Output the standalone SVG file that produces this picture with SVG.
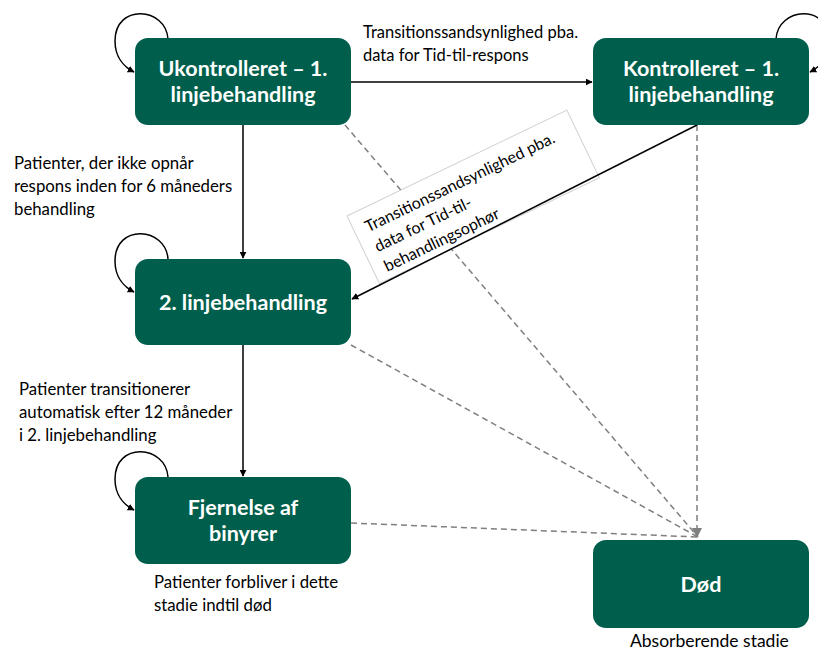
<svg xmlns="http://www.w3.org/2000/svg" width="818" height="652" viewBox="0 0 818 652">
<style>
.node{fill:#005f4c;}
.nt{font-family:Lato,"Open Sans","Liberation Sans",sans-serif;font-weight:bold;font-size:21.5px;fill:#ffffff;text-anchor:middle;}
.lbl{font-family:Lato,"Open Sans","Liberation Sans",sans-serif;font-size:16.5px;fill:#000000;}
.big{font-size:16.8px;}
.solid{fill:none;stroke:#000;stroke-width:1.5;}
.dash{fill:none;stroke:#7f7f7f;stroke-width:1.5;stroke-dasharray:6,4;}
</style>
<defs>
<marker id="ah" viewBox="0 0 10 10" refX="9" refY="5" markerWidth="7" markerHeight="7" orient="auto" markerUnits="userSpaceOnUse">
<path d="M0,0 L10,5 L0,10 z" fill="#000"/>
</marker>
<marker id="ahg" viewBox="0 0 10 10" refX="9" refY="5" markerWidth="10" markerHeight="10" orient="auto" markerUnits="userSpaceOnUse">
<path d="M0,0 L10,5 L0,10 z" fill="#7f7f7f"/>
</marker>
</defs>
<g id="connectors">
<path class="dash" d="M345,125 L698,537"/>
<path class="dash" d="M351,345 L698,537"/>
<path class="dash" d="M351,523 L698,537"/>
<path class="dash" d="M697,125 L697,537" marker-end="url(#ahg)"/>
<path class="solid" d="M351,82 L592,82" marker-end="url(#ah)"/>
<path class="solid" d="M243,125 L243,258" marker-end="url(#ah)"/>
<path class="solid" d="M243,345 L243,476" marker-end="url(#ah)"/>
<path class="solid" d="M168,39 C166,7 115,3 115,41 C115,57 124,67 134,72" marker-end="url(#ah)"/>
<path class="solid" d="M168,259 C166,227 115,223 115,261 C115,277 124,287 134,292" marker-end="url(#ah)"/>
<path class="solid" d="M168,477 C166,445 115,441 115,479 C115,495 124,505 134,510" marker-end="url(#ah)"/>
<path class="solid" d="M776,39 C778,7 829,3 829,41 C829,57 820,67 810,72" marker-end="url(#ah)"/>
</g>
<g id="rotlabel" transform="translate(347,216) rotate(-25.7)">
<rect x="0" y="0" width="244" height="75" fill="#ffffff" stroke="#d0d0d0" stroke-width="1"/>
<text class="lbl" x="12" y="24" style="font-size:16px">Transitionssandsynlighed pba.</text>
<text class="lbl" x="12" y="46" style="font-size:16px">data for Tid-til-</text>
<text class="lbl" x="12" y="68" style="font-size:16px">behandlingsophør</text>
</g>
<path class="solid" d="M697,125 L352,299" marker-end="url(#ah)"/>
<g id="n1">
<rect class="node" x="135" y="38" width="216" height="87" rx="13"/>
<text class="nt" x="243" y="76">Ukontrolleret – 1.</text>
<text class="nt" x="243" y="102">linjebehandling</text>
</g>
<g id="n2">
<rect class="node" x="593" y="38" width="216" height="87" rx="13"/>
<text class="nt" x="701" y="76">Kontrolleret – 1.</text>
<text class="nt" x="701" y="102">linjebehandling</text>
</g>
<g id="n3">
<rect class="node" x="135" y="259" width="216" height="86" rx="13"/>
<text class="nt" x="243" y="310">2. linjebehandling</text>
</g>
<g id="n4">
<rect class="node" x="135" y="477" width="216" height="87" rx="13"/>
<text class="nt" x="243" y="515">Fjernelse af</text>
<text class="nt" x="243" y="541">binyrer</text>
</g>
<g id="n5">
<rect class="node" x="593" y="540" width="216" height="88" rx="13"/>
<text class="nt" x="701" y="592">Død</text>
</g>
<g id="labels">
<text class="lbl" x="363" y="38">Transitionssandsynlighed pba.</text>
<text class="lbl" x="363" y="61">data for Tid-til-respons</text>
<text class="lbl big" x="14" y="169">Patienter, der ikke opnår</text>
<text class="lbl big" x="14" y="192">respons inden for 6 måneders</text>
<text class="lbl big" x="14" y="215">behandling</text>
<text class="lbl big" x="19" y="395">Patienter transitionerer</text>
<text class="lbl big" x="19" y="418">automatisk efter 12 måneder</text>
<text class="lbl big" x="19" y="441">i 2. linjebehandling</text>
<text class="lbl big" x="154" y="588">Patienter forbliver i dette</text>
<text class="lbl big" x="154" y="611">stadie indtil død</text>
<text class="lbl" x="630" y="647" style="font-size:17.5px">Absorberende stadie</text>
</g>
</svg>
